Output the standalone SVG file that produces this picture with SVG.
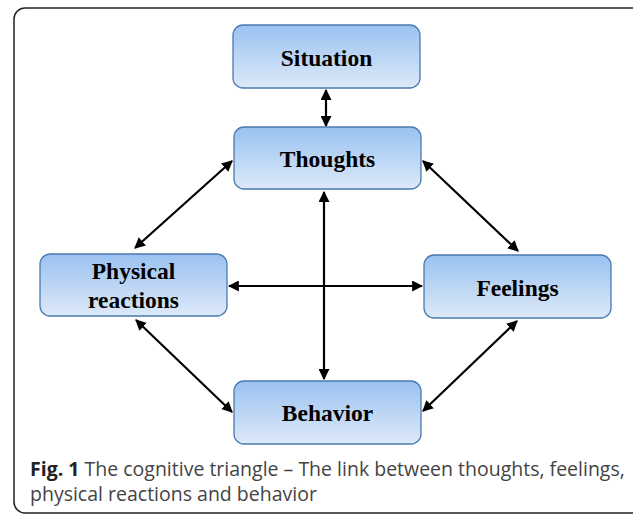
<svg xmlns="http://www.w3.org/2000/svg" width="633" height="517" viewBox="0 0 633 517">
<defs>
<linearGradient id="g" x1="0" y1="0" x2="0" y2="1">
<stop offset="0" stop-color="#9ac2f1"/>
<stop offset="1" stop-color="#dde9f8"/>
</linearGradient>
<marker id="ah" viewBox="0 0 10 10" refX="9" refY="5" markerWidth="5" markerHeight="5" orient="auto-start-reverse" markerUnits="strokeWidth">
<path d="M0,0 L10,5 L0,10 z" fill="#000"/>
</marker>
<style>
.box{fill:url(#g);stroke:#4a7ab0;stroke-width:1.3}
.lbl{font-family:"Liberation Serif",serif;font-weight:bold;font-size:23.5px;fill:#000;text-anchor:middle}
.con{stroke:#000;stroke-width:2.2;fill:none;marker-start:url(#ah);marker-end:url(#ah)}
.cap{font-family:"Open Sans",sans-serif;font-size:19.5px;fill:#444}
</style>
</defs>
<rect x="14" y="8" width="640" height="505" rx="11" ry="11" fill="#fff" stroke="#222" stroke-width="1.5"/>
<g id="connectors">
<line class="con" x1="326" y1="90" x2="326" y2="126"/>
<line class="con" x1="324" y1="192" x2="324" y2="379"/>
<line class="con" x1="229" y1="286" x2="422" y2="286"/>
<line class="con" x1="232" y1="161" x2="135" y2="248"/>
<line class="con" x1="423" y1="161" x2="518" y2="251"/>
<line class="con" x1="136" y1="320" x2="232" y2="412"/>
<line class="con" x1="517" y1="321" x2="423" y2="411"/>
</g>
<g id="situation">
<rect class="box" x="233" y="25" width="187" height="63" rx="10"/>
<text class="lbl" x="326.5" y="66">Situation</text>
</g>
<g id="thoughts">
<rect class="box" x="234" y="127" width="187" height="62" rx="10"/>
<text class="lbl" x="327.5" y="167">Thoughts</text>
</g>
<g id="physical">
<rect class="box" x="40" y="254" width="187" height="62" rx="10"/>
<text class="lbl" x="133.5" y="279">Physical</text>
<text class="lbl" x="133.5" y="308">reactions</text>
</g>
<g id="feelings">
<rect class="box" x="424" y="255" width="187" height="63" rx="10"/>
<text class="lbl" x="517.5" y="296">Feelings</text>
</g>
<g id="behavior">
<rect class="box" x="234" y="381" width="187" height="63" rx="10"/>
<text class="lbl" x="327.5" y="421">Behavior</text>
</g>
<g id="caption">
<text class="cap" x="30" y="476"><tspan font-weight="bold" fill="#222">Fig. 1</tspan> The cognitive triangle – The link between thoughts, feelings,</text>
<text class="cap" x="30" y="501">physical reactions and behavior</text>
</g>
</svg>
